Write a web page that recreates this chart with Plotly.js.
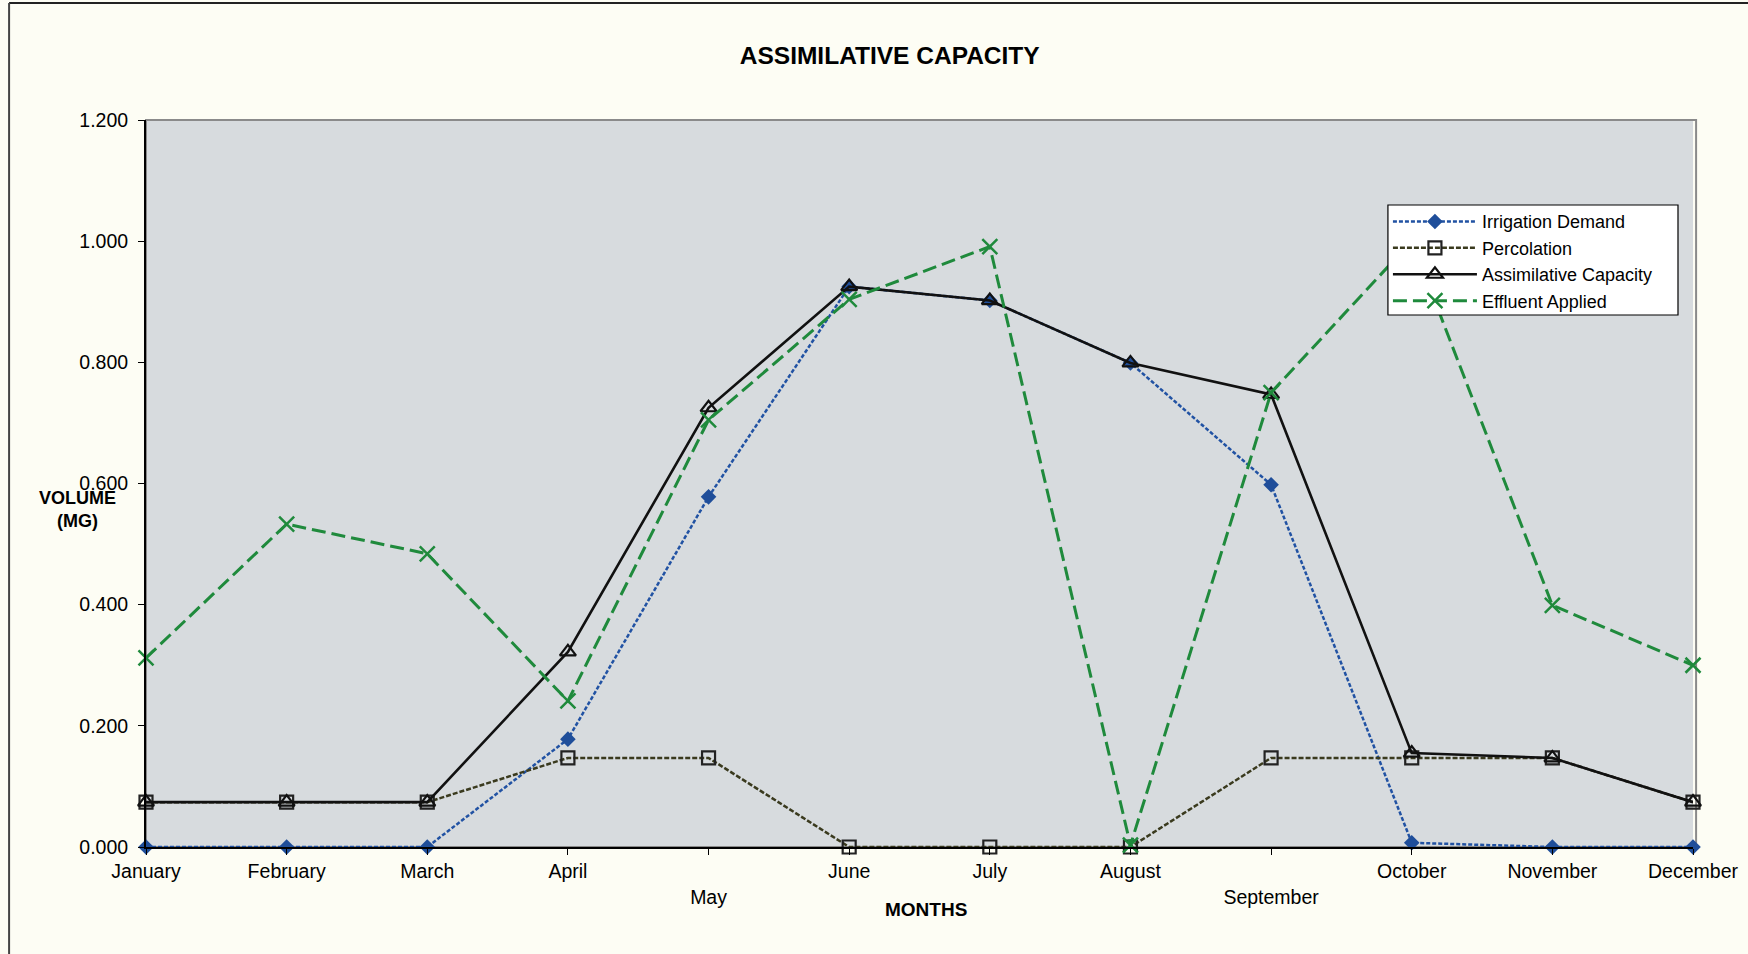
<!DOCTYPE html>
<html>
<head>
<meta charset="utf-8">
<script src="https://cdn.plot.ly/plotly-3.0.1.min.js"></script>
<style>
  html, body { margin: 0; padding: 0; background: #fdfdf4; }
  #chart { width: 1748px; height: 954px; }
</style>
</head>
<body>
<div id="chart"></div>
<script>
const months = ['January','February','March','April','May','June','July','August','September','October','November','December'];
const irrigationDemand = [0, 0, 0, 0.178, 0.578, 0.925, 0.902, 0.799, 0.598, 0.007, 0, 0];
const percolation = [0.074, 0.074, 0.074, 0.147, 0.147, 0, 0, 0, 0.147, 0.147, 0.147, 0.074];
const assimilativeCapacity = [0.074, 0.074, 0.074, 0.322, 0.725, 0.925, 0.902, 0.799, 0.747, 0.155, 0.147, 0.074];
const effluentApplied = [0.312, 0.533, 0.484, 0.241, 0.705, 0.904, 0.991, 0.003, 0.750, 1.000, 0.399, 0.300];
const yTickVals = [0, 0.2, 0.4, 0.6, 0.8, 1.0, 1.2];

const idx = months.map((m, i) => i);
// Excel staggers May and September onto a second row
const tickText = months.map((m, i) => (i === 4 || i === 8) ? '<br>' + m : m);

const FONT = 'Liberation Sans, Arial, sans-serif';

const traces = [
  {
    name: 'Irrigation Demand', x: idx, y: irrigationDemand, type: 'scatter', mode: 'lines+markers',
    cliponaxis: false,
    line: { color: '#2152a3', width: 2.5, dash: '4px,2px' },
    marker: { symbol: 'diamond', size: 12, color: '#1f4e9a' }
  },
  {
    name: 'Percolation', x: idx, y: percolation, type: 'scatter', mode: 'lines+markers',
    cliponaxis: false,
    line: { color: '#3a3a1e', width: 2.5, dash: '5px,2px' },
    marker: { symbol: 'square-open', size: 13, color: '#222222', line: { width: 2.2, color: '#222222' } }
  },
  {
    name: 'Assimilative Capacity', x: idx, y: assimilativeCapacity, type: 'scatter', mode: 'lines+markers',
    cliponaxis: false,
    line: { color: '#111111', width: 2.6 },
    marker: { symbol: 'triangle-up-open', size: 14, color: '#111111', line: { width: 2.2, color: '#111111' } }
  },
  {
    name: 'Effluent Applied', x: idx, y: effluentApplied, type: 'scatter', mode: 'lines+markers',
    cliponaxis: false,
    line: { color: '#1f8a3c', width: 3, dash: '14px,6px' },
    marker: { symbol: 'x-thin-open', size: 15, color: '#1f8a3c', line: { width: 2.5, color: '#1f8a3c' } }
  }
];

const layout = {
  width: 1748, height: 954,
  margin: { l: 146, r: 55, t: 120, b: 107 },
  paper_bgcolor: '#fdfdf4',
  plot_bgcolor: '#d7dbde',
  font: { family: FONT, color: '#000', size: 19.5 },
  showlegend: true,
  title: {
    text: '<b>ASSIMILATIVE CAPACITY</b>',
    x: 0.509, xref: 'container', xanchor: 'center',
    y: 0.9423, yref: 'container', yanchor: 'middle',
    font: { family: FONT, size: 24.5, color: '#000' }
  },
  xaxis: {
    range: [0, 11], tickvals: idx, ticktext: tickText,
    showgrid: false, zeroline: false,
    showline: true, linecolor: '#000', linewidth: 2,
    ticks: 'outside', ticklen: 6, tickcolor: '#000', tickwidth: 1,
    tickfont: { family: FONT, size: 19.5, color: '#000' },
    fixedrange: true
  },
  xaxis2: {
    overlaying: 'x', range: [0, 11], tickvals: idx,
    showticklabels: false, showgrid: false, zeroline: false, showline: false,
    ticks: 'inside', ticklen: 6, tickcolor: '#000', tickwidth: 1, side: 'bottom'
  },
  yaxis: {
    range: [0, 1.2], tickvals: yTickVals, tickformat: '.3f',
    showgrid: false, zeroline: false,
    showline: true, linecolor: '#000', linewidth: 2,
    ticks: 'outside', ticklen: 6, tickcolor: '#000', tickwidth: 1,
    tickfont: { family: FONT, size: 19.5, color: '#000' },
    ticklabelstandoff: 6,
    fixedrange: true
  },
  yaxis2: {
    overlaying: 'y', range: [0, 1.2], tickvals: yTickVals,
    showticklabels: false, showgrid: false, zeroline: false, showline: false,
    ticks: 'inside', ticklen: 6, tickcolor: '#000', tickwidth: 1, side: 'left'
  },
  legend: {
    x: 0.8028, y: 0.8855, xanchor: 'left', yanchor: 'top',
    bgcolor: 'rgba(0,0,0,0)', borderwidth: 0,
    font: { family: FONT, size: 18, color: '#000' },
    itemwidth: 84, tracegroupgap: 0
  },
  annotations: [
    {
      text: '<b>VOLUME<br>(MG)</b>', xref: 'paper', yref: 'paper',
      x: -0.044, y: 0.4636, xanchor: 'center', yanchor: 'middle',
      showarrow: false, font: { family: FONT, size: 18, color: '#000' }
    },
    {
      text: '<b>MONTHS</b>', xref: 'paper', yref: 'paper',
      x: 0.504, y: -0.0853, xanchor: 'center', yanchor: 'middle',
      showarrow: false, font: { family: FONT, size: 19, color: '#000' }
    }
  ],
  shapes: [
    // plot area outline (gray top/right edges)
    { type: 'rect', xref: 'paper', yref: 'paper', x0: 0, y0: 0, x1: 1.002, y1: 1,
      line: { color: '#8a8a8a', width: 2 }, layer: 'below' },
    // legend box (white, black border) drawn above the data, under the legend entries
    { type: 'rect', xref: 'paper', yref: 'paper', x0: 0.8028, y0: 0.7318, x1: 0.9903, y1: 0.8831,
      fillcolor: '#ffffff', line: { color: '#000', width: 1.2 }, layer: 'above' },
    // outer frame (top and left visible)
    { type: 'line', xref: 'paper', yref: 'paper', x0: -0.0885, y0: 1.161, x1: 1.04, y1: 1.161,
      line: { color: '#222', width: 2 } },
    { type: 'line', xref: 'paper', yref: 'paper', x0: -0.0885, y0: 1.161, x1: -0.0885, y1: -0.16,
      line: { color: '#444', width: 2 } }
  ]
};

Plotly.newPlot('chart', traces, layout, { displayModeBar: false, staticPlot: true });
</script>
</body>
</html>
